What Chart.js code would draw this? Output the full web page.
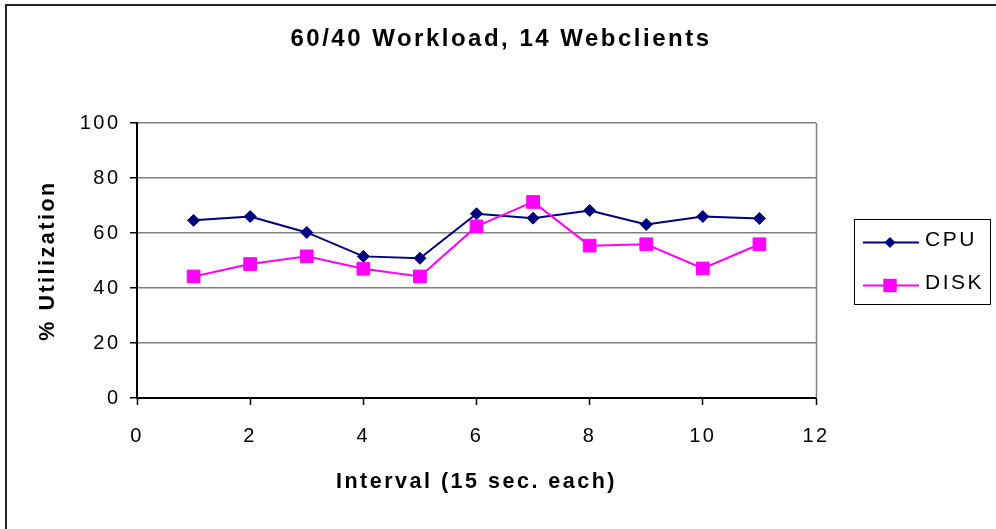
<!DOCTYPE html>
<html>
<head>
<meta charset="utf-8">
<title>60/40 Workload, 14 Webclients</title>
<script src="https://cdn.jsdelivr.net/npm/chart.js@4/dist/chart.umd.min.js"></script>
<style>
  html, body { margin: 0; padding: 0; background: #fff; }
  #wrap { width: 996px; height: 529px; position: relative; }
  canvas { display: block; }
</style>
</head>
<body>
<div id="wrap"><canvas id="chart" width="996" height="529"></canvas></div>
<script>
// Sample intervals (15 s each) and measured utilisation, in percent
const intervals = [1, 2, 3, 4, 5, 6, 7, 8, 9, 10, 11];
const cpuUtil  = [64.6, 66.0, 60.2, 51.5, 50.8, 67.0, 65.4, 68.2, 63.1, 66.0, 65.3];
const diskUtil = [44.2, 48.7, 51.5, 47.0, 44.2, 62.4, 71.3, 55.4, 55.9, 47.1, 55.9];

// Axis tick values
const xTickValues = [0, 2, 4, 6, 8, 10, 12];
const yTickValues = [0, 20, 40, 60, 80, 100];

const FONT = "'Liberation Sans', Arial, Helvetica, sans-serif";
const SPACING = '2.5px';

function toPoints(values) {
  return intervals.map((x, i) => ({ x: x, y: values[i] }));
}

function markerPath(ctx, style, x, y, r) {
  ctx.beginPath();
  if (style === 'rectRot') {
    ctx.moveTo(x - r, y);
    ctx.lineTo(x, y - r);
    ctx.lineTo(x + r, y);
    ctx.lineTo(x, y + r);
    ctx.closePath();
  } else {
    const s = Math.SQRT1_2 * r;
    ctx.rect(x - s, y - s, 2 * s, 2 * s);
  }
}

// Frame, plot edge and the boxed legend (line + marker samples)
const decorations = {
  id: 'decorations',
  afterLayout(chart) {
    // centre the title across the whole canvas, legend column included
    const t = chart.titleBlock;
    if (t) { t.left = 6; t.right = 996; t.width = 990; }
  },
  beforeDraw(chart) {
    chart.ctx.letterSpacing = SPACING;
  },
  beforeDatasetsDraw(chart) {
    const { ctx, chartArea } = chart;
    ctx.save();
    ctx.strokeStyle = '#808080';
    ctx.lineWidth = 1.5;
    ctx.beginPath();
    ctx.moveTo(chartArea.right + 0.5, chartArea.top);
    ctx.lineTo(chartArea.right + 0.5, chartArea.bottom);
    ctx.stroke();
    ctx.restore();
  },
  afterDraw(chart) {
    const ctx = chart.ctx;
    ctx.save();
    // outer frame
    ctx.fillStyle = '#222';
    ctx.fillRect(5, 4, 2, 525);
    ctx.fillRect(5, 4, 991, 2);

    // legend box
    const box = { x: 854.5, y: 219.5, w: 136, h: 85 };
    ctx.fillStyle = '#fff';
    ctx.fillRect(box.x, box.y, box.w, box.h);
    ctx.strokeStyle = '#000';
    ctx.lineWidth = 1;
    ctx.strokeRect(box.x, box.y, box.w, box.h);

    const rows = [242.5, 285.5];
    chart.data.datasets.forEach((ds, i) => {
      const y = rows[i];
      ctx.strokeStyle = ds.borderColor;
      ctx.lineWidth = 2;
      ctx.beginPath();
      ctx.moveTo(863, y);
      ctx.lineTo(919, y);
      ctx.stroke();
      ctx.fillStyle = ds.borderColor;
      markerPath(ctx, ds.pointStyle, 890, y, ds.legendMarkerRadius);
      ctx.fill();
      ctx.fillStyle = '#000';
      ctx.font = '21px ' + FONT;
      ctx.textAlign = 'left';
      ctx.textBaseline = 'alphabetic';
      ctx.fillText(ds.label, 925, y + 3.5);
    });
    ctx.restore();
  }
};

new Chart(document.getElementById('chart'), {
  type: 'line',
  data: {
    datasets: [
      {
        label: 'CPU',
        data: toPoints(cpuUtil),
        borderColor: '#000080',
        backgroundColor: '#000080',
        borderWidth: 2,
        pointStyle: 'rectRot',
        pointRadius: 6,
        pointBorderWidth: 1,
        pointBackgroundColor: '#000080',
        pointBorderColor: '#000080',
        legendMarkerRadius: 5.5,
        tension: 0,
        order: 1
      },
      {
        label: 'DISK',
        data: toPoints(diskUtil),
        borderColor: '#FF00FF',
        backgroundColor: '#FF00FF',
        borderWidth: 2,
        pointStyle: 'rect',
        pointRadius: 9,
        pointBorderWidth: 1,
        pointBackgroundColor: '#FF00FF',
        pointBorderColor: '#FF00FF',
        legendMarkerRadius: 9.5,
        tension: 0,
        order: 0
      }
    ]
  },
  options: {
    responsive: false,
    animation: false,
    devicePixelRatio: 1,
    layout: { padding: { left: 0, right: 180, top: 0, bottom: 0 } },
    plugins: {
      legend: { display: false },
      tooltip: { enabled: false },
      title: {
        display: true,
        text: '60/40 Workload, 14 Webclients',
        color: '#000',
        font: { family: FONT, size: 24, weight: 'bold', lineHeight: 1.2 },
        padding: { top: 25, bottom: 69.2 }
      }
    },
    scales: {
      x: {
        type: 'linear',
        position: 'bottom',
        min: 0,
        max: 12,
        afterBuildTicks(scale) { scale.ticks = xTickValues.map(v => ({ value: v })); },
        afterFit(scale) { scale.height = 131; },
        ticks: { color: '#000', font: { family: FONT, size: 20 }, padding: 19, maxRotation: 0 },
        grid: { drawOnChartArea: false, drawTicks: true, tickLength: 7, tickColor: '#000', tickWidth: 1.5 },
        border: { color: '#000', width: 2 },
        title: {
          display: true,
          text: 'Interval (15 sec. each)',
          color: '#000',
          font: { family: FONT, size: 21.5, weight: 'bold', lineHeight: 1.2 },
          padding: { top: 0, bottom: 34 }
        }
      },
      y: {
        min: 0,
        max: 100,
        afterBuildTicks(scale) { scale.ticks = yTickValues.map(v => ({ value: v })); },
        afterFit(scale) { scale.width = 137; },
        ticks: { color: '#000', font: { family: FONT, size: 20 }, padding: 9.5 },
        grid: { color: '#808080', lineWidth: 1.5, drawTicks: true, tickLength: 7, tickColor: '#000', tickWidth: 1.5 },
        border: { color: '#000', width: 2 },
        title: {
          display: true,
          text: '% Utilization',
          color: '#000',
          font: { family: FONT, size: 21.5, weight: 'bold', lineHeight: 1.2 },
          padding: { top: 35, bottom: 0 }
        }
      }
    }
  },
  plugins: [decorations]
});
</script>
</body>
</html>
